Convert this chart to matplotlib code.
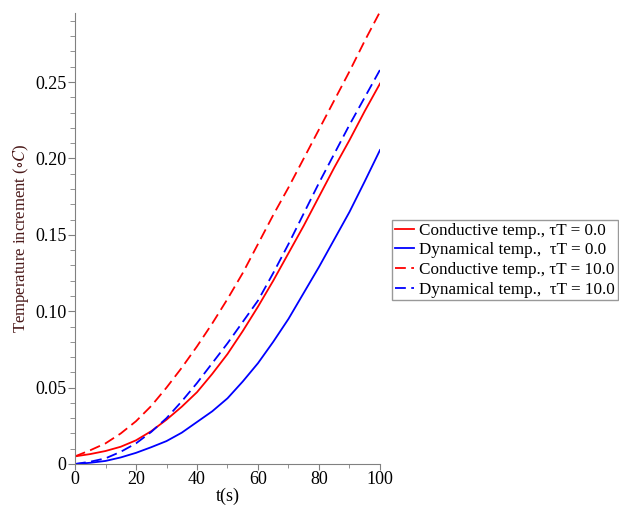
import numpy as np
import matplotlib
matplotlib.use("Agg")
import matplotlib.pyplot as plt
from matplotlib.ticker import MultipleLocator, FuncFormatter

# values (t in s, temperature increment in deg C)
t = [0, 5, 10, 15, 20, 25, 30, 35, 40, 45, 50, 55, 60, 65, 70, 75, 80, 85, 90, 95, 100]
cond_0 = [0.005, 0.0065, 0.0085, 0.0113, 0.0155, 0.0215, 0.029, 0.0375, 0.047, 0.059, 0.072,
          0.087, 0.103, 0.120, 0.138, 0.156, 0.175, 0.194, 0.212, 0.231, 0.249]
dyn_0 = [0.0, 0.0008, 0.002, 0.0043, 0.0073, 0.011, 0.015, 0.0205, 0.0275, 0.0345, 0.043,
         0.054, 0.066, 0.080, 0.095, 0.112, 0.129, 0.147, 0.165, 0.185, 0.2055]
cond_10 = [0.005, 0.009, 0.0135, 0.020, 0.028, 0.038, 0.050, 0.063, 0.077, 0.092, 0.108,
           0.125, 0.144, 0.163, 0.181, 0.200, 0.219, 0.238, 0.257, 0.277, 0.296]
dyn_10 = [0.0, 0.0015, 0.0037, 0.008, 0.0135, 0.021, 0.030, 0.041, 0.053, 0.066, 0.079,
          0.093, 0.107, 0.125, 0.144, 0.164, 0.184, 0.203, 0.222, 0.240, 0.258]

labels = ["Conductive temp., \u03c4T = 0.0",
          "Dynamical temp.,  \u03c4T = 0.0",
          "Conductive temp., \u03c4T = 10.0",
          "Dynamical temp.,  \u03c4T = 10.0"]

plt.rcParams["font.family"] = "Liberation Serif"
plt.rcParams["mathtext.fontset"] = "stix"
plt.rcParams["font.size"] = 13

fig = plt.figure(figsize=(6.19, 5.09), dpi=100)
ax = fig.add_axes([75 / 619, 1 - 464 / 509, 305 / 619, 451 / 509])

dash = (0, (6, 3))
ax.plot(t, cond_0, color="#ff0000", lw=1.3, label=labels[0])
ax.plot(t, dyn_0, color="#0000ff", lw=1.3, label=labels[1])
ax.plot(t, cond_10, color="#ff0000", lw=1.3, ls=dash, label=labels[2])
ax.plot(t, dyn_10, color="#0000ff", lw=1.3, ls=dash, label=labels[3])

ax.set_xlim(0, 100)
ax.set_ylim(0, 0.2952)
ax.xaxis.set_major_locator(MultipleLocator(20))
ax.xaxis.set_minor_locator(MultipleLocator(10))
ax.yaxis.set_major_locator(MultipleLocator(0.05))
ax.yaxis.set_minor_locator(MultipleLocator(0.01))
ax.yaxis.set_major_formatter(FuncFormatter(lambda v, p: "0" if abs(v) < 1e-9 else f"{v:.2f}"))

for s in ["top", "right"]:
    ax.spines[s].set_visible(False)
for s in ["left", "bottom"]:
    ax.spines[s].set_color("#808080")
ax.tick_params(axis="y", which="major", length=5, color="#808080", labelsize=13, pad=1)
ax.tick_params(axis="y", which="minor", length=3.5, color="#808080")
ax.tick_params(axis="x", which="major", length=4, color="#808080", labelsize=13, pad=1)
ax.tick_params(axis="x", which="minor", length=3, color="#808080")

ax.set_xlabel("t(s)", fontsize=13, labelpad=0)
ax.set_ylabel(r"Temperature increment ($\circ C$)", fontsize=12, color="#4b1a1a", labelpad=3)

leg = fig.legend(loc="upper left", bbox_to_anchor=(392 / 619, 1 - 220 / 509),
                 fontsize=12.3, frameon=True, fancybox=False, handlelength=1.15,
                 handletextpad=0.3, labelspacing=0.22, borderpad=0.15, borderaxespad=0)
leg.get_frame().set_edgecolor("#808080")
leg.get_frame().set_linewidth(1.0)

fig.savefig("out.png", dpi=100)
